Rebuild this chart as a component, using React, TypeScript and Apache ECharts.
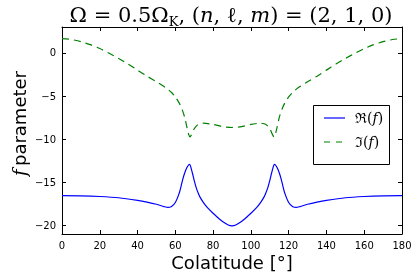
import { useEffect, useRef } from "react";
import * as echarts from "echarts";

const realX = [0, 10, 20, 30, 40, 45, 50, 54, 56, 58, 60, 62, 63, 64, 65, 66, 67, 67.5, 68, 69, 70, 71, 72, 73, 75, 77, 80, 83, 85, 88, 90,
  92, 95, 97, 100, 103, 105, 107, 108, 109, 110, 111, 112, 112.5, 113, 114, 115, 116, 117, 118, 120, 122, 124, 126, 130, 135, 140, 150, 160, 170, 180];
const realY = [-16.55, -16.57, -16.65, -16.8, -17.1, -17.3, -17.55, -17.82, -17.92, -17.8, -17.35, -16.3, -15.5, -14.6, -13.9, -13.35, -13.0, -12.93, -13.1, -13.9, -14.8, -15.6, -16.2, -16.7, -17.4, -17.95, -18.6, -19.2, -19.55, -19.95, -20.05,
  -19.95, -19.55, -19.2, -18.6, -17.95, -17.4, -16.7, -16.2, -15.6, -14.8, -13.9, -13.1, -12.93, -13.0, -13.35, -13.9, -14.6, -15.5, -16.3, -17.35, -17.8, -17.92, -17.82, -17.55, -17.3, -17.1, -16.8, -16.65, -16.57, -16.55];

const imagX = [0, 5, 10, 15, 20, 25, 30, 35, 40, 45, 50, 55, 58, 60, 62, 63.5, 65, 66, 67, 67.8, 68.5, 70, 72, 75, 80, 85, 90,
  95, 100, 105, 108, 110, 111.5, 112.2, 113, 114, 115, 116.5, 118, 120, 122, 125, 130, 135, 140, 145, 150, 155, 160, 165, 170, 175, 180];
const imagY = [1.66, 1.55, 1.3, 0.95, 0.5, -0.05, -0.65, -1.3, -2.0, -2.7, -3.35, -4.05, -4.6, -5.1, -5.8, -6.5, -7.5, -8.5, -9.4, -9.75, -9.5, -8.8, -8.3, -8.15, -8.3, -8.55, -8.65,
  -8.55, -8.3, -8.15, -8.3, -8.8, -9.5, -9.75, -9.4, -8.5, -7.5, -6.5, -5.8, -5.1, -4.6, -4.05, -3.35, -2.7, -2.0, -1.3, -0.65, -0.05, 0.5, 0.95, 1.3, 1.55, 1.66];

const yTicks = [-20, -15, -10, -5, 0];
const seriesNames = ["ℜ(f)", "ℑ(f)"];

export default function App() {
  const ref = useRef<HTMLDivElement>(null);
  useEffect(() => {
    const chart = echarts.init(ref.current!, null, { renderer: "svg" });
    const sans = "DejaVu Sans";
    const serif = "DejaVu Serif";
    const axisLine = { show: true, onZero: false, lineStyle: { color: "#000", width: 1 } };
    const tick = { show: true, inside: true, length: 4, lineStyle: { color: "#000", width: 1 } };
    const fmt = (v: number) => String(v).replace("-", "\u2212");
    const legendRich = {
      a: { fontFamily: serif, fontSize: 14, fill: "#000" },
      i: { fontFamily: serif, fontSize: 14, fontStyle: "italic", fill: "#000" },
    };
    const legendText = (name: string) => `{a|${name.slice(0, 2)}}{i|f}{a|)}`;
    chart.setOption({
      animation: false,
      grid: { left: 62, right: 13, top: 27, bottom: 42 },
      xAxis: [
        {
          type: "value", min: 0, max: 180, interval: 20, position: "bottom",
          axisLine, axisTick: tick, splitLine: { show: false },
          axisLabel: { color: "#000", fontFamily: sans, fontSize: 10, margin: 6 },
        },
        {
          type: "value", min: 0, max: 180, interval: 20, position: "top",
          axisLine, axisTick: tick, splitLine: { show: false }, axisLabel: { show: false },
        },
      ],
      yAxis: [
        {
          type: "value", min: -21, max: 3, position: "left",
          axisLine, axisTick: { ...tick, customValues: yTicks }, splitLine: { show: false },
          axisLabel: { color: "#000", fontFamily: sans, fontSize: 10, margin: 6, customValues: yTicks, formatter: fmt },
        },
        {
          type: "value", min: -21, max: 3, position: "right",
          axisLine, axisTick: { ...tick, customValues: yTicks }, splitLine: { show: false },
          axisLabel: { show: false },
        },
      ],
      series: [
        {
          name: seriesNames[0], type: "line", xAxisIndex: 0, yAxisIndex: 0,
          data: realX.map((x, i) => [x, realY[i]]), showSymbol: false, symbol: "none",
          smooth: 0.3, lineStyle: { color: "#0000ff", width: 1.2 },
        },
        {
          name: seriesNames[1], type: "line", xAxisIndex: 0, yAxisIndex: 0,
          data: imagX.map((x, i) => [x, imagY[i]]), showSymbol: false, symbol: "none",
          smooth: 0.2, lineStyle: { color: "#008000", width: 1.2, type: [7, 5] },
        },
      ],
      graphic: [
        {
          type: "text", x: 231, y: 14.5, z: 100,
          style: {
            text: "{a|Ω = 0.5Ω}{s|K}{a|, (}{i|n}{a|, ℓ, }{i|m}{a|) = (2, 1, 0)}",
            align: "center", verticalAlign: "middle",
            rich: {
              a: { fontFamily: serif, fontSize: 21, fill: "#000", lineHeight: 26 },
              i: { fontFamily: serif, fontSize: 21, fontStyle: "italic", fill: "#000", lineHeight: 26 },
              s: { fontFamily: serif, fontSize: 13, fill: "#000", lineHeight: 26, verticalAlign: "bottom", padding: [10, 0, 0, 0] },
            },
          },
        },
        {
          type: "text", x: 232, y: 262, z: 100,
          style: { text: "Colatitude [°]", fontFamily: sans, fontSize: 18, fill: "#000", align: "center", verticalAlign: "middle" },
        },
        {
          type: "text", x: 19, y: 123.5, z: 100, rotation: Math.PI / 2,
          style: {
            text: "{i|f} {a|parameter}", align: "center", verticalAlign: "middle",
            rich: {
              i: { fontFamily: serif, fontStyle: "italic", fontSize: 18, fill: "#000" },
              a: { fontFamily: sans, fontSize: 18, fill: "#000" },
            },
          },
        },
        {
          type: "group", z: 100,
          children: [
            { type: "rect", shape: { x: 313.5, y: 105.5, width: 76, height: 59 }, style: { fill: "#fff", stroke: "#000", lineWidth: 1 } },
            { type: "line", shape: { x1: 324, y1: 118, x2: 345, y2: 118 }, style: { stroke: "#0000ff", lineWidth: 1.2 } },
            { type: "line", shape: { x1: 324, y1: 142, x2: 345, y2: 142 }, style: { stroke: "#008000", lineWidth: 1.2, lineDash: [6, 6] } },
            { type: "text", x: 355, y: 118, style: { text: legendText(seriesNames[0]), rich: legendRich, verticalAlign: "middle" } },
            { type: "text", x: 355, y: 142, style: { text: legendText(seriesNames[1]), rich: legendRich, verticalAlign: "middle" } },
          ],
        },
      ],
    });
    return () => chart.dispose();
  }, []);
  return <div ref={ref} style={{ position: "fixed", left: 0, top: 0, width: 415, height: 276 }} />;
}
